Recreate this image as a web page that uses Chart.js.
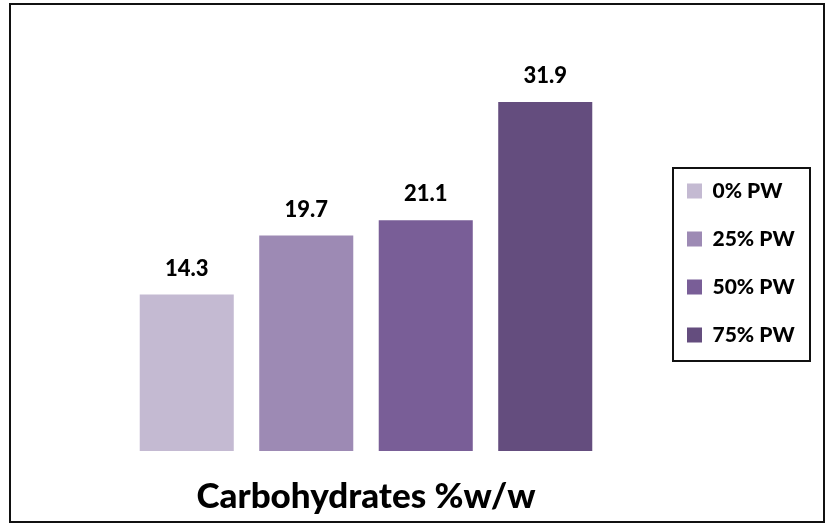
<!DOCTYPE html>
<html lang="en">
<head>
  <meta charset="UTF-8">
  <title>Carbohydrates %w/w</title>
  <script src="https://cdn.jsdelivr.net/npm/chart.js"></script>
  <style>
    body { margin: 0; background: #fff; }
    #wrap { width: 826px; height: 526px; }
  </style>
</head>
<body>
  <div id="wrap"><canvas id="chart" width="826" height="526"></canvas></div>

  <script>
    // data
    const seriesNames = ['0% PW', '25% PW', '50% PW', '75% PW'];
    const carbValues = [14.3, 19.7, 21.1, 31.9];
    const categories = [''];
    const axisTitle = 'Carbohydrates %w/w';

    const barColors = ['#C4BAD2', '#9D8AB4', '#795E97', '#644D7E'];
    const FONT = 'Lato, "Open Sans", sans-serif';
    const WEIGHT = '900';

    // work out legend width so that its items start where the picture has them
    const mctx = document.createElement('canvas').getContext('2d');
    mctx.font = WEIGHT + ' 21px ' + FONT;
    let maxText = 0;
    seriesNames.forEach(n => { maxText = Math.max(maxText, mctx.measureText(n).width); });
    const legendPad = 27;
    const legendWidth = legendPad + 15 + 10.5 + maxText + 10;
    const padRight = 826 - 660 - legendWidth;

    const frame = {
      id: 'frame',
      beforeDraw(chart) {
        const ctx = chart.ctx;
        ctx.save();
        ctx.fillStyle = '#fff';
        ctx.fillRect(0, 0, chart.width, chart.height);
        ctx.restore();
      },
      afterDraw(chart) {
        const ctx = chart.ctx;
        ctx.save();
        ctx.strokeStyle = '#111';
        ctx.lineWidth = 2;
        ctx.strokeRect(10, 4, 814, 518);

        // border round the legend
        const hb = chart.legend.legendHitBoxes;
        if (hb && hb.length) {
          let right = 0;
          hb.forEach(h => { right = Math.max(right, h.left + h.width); });
          const l = Math.round(hb[0].left - 14);
          const t = Math.round(hb[0].top - 12.5);
          const b = Math.round(hb[hb.length - 1].top + hb[hb.length - 1].height + 15.5);
          const r = Math.round(Math.max(right + 13, 810));
          ctx.lineWidth = 2;
          ctx.strokeRect(l, t, r - l, b - t);
        }
        ctx.restore();
      }
    };

    const valueLabels = {
      id: 'valueLabels',
      afterDatasetsDraw(chart) {
        const ctx = chart.ctx;
        ctx.save();
        ctx.font = WEIGHT + ' 22px ' + FONT;
        ctx.fillStyle = '#000';
        ctx.textAlign = 'center';
        ctx.textBaseline = 'alphabetic';
        chart.data.datasets.forEach((ds, i) => {
          const meta = chart.getDatasetMeta(i);
          meta.data.forEach((bar, j) => {
            ctx.fillText(ds.data[j].toFixed(1), bar.x, bar.y - 19);
          });
        });
        ctx.restore();
      }
    };

    new Chart(document.getElementById('chart'), {
      type: 'bar',
      data: {
        labels: categories,
        datasets: seriesNames.map((name, i) => ({
          label: name,
          data: [carbValues[i]],
          backgroundColor: barColors[i],
          barPercentage: 0.787,
          categoryPercentage: 1
        }))
      },
      options: {
        responsive: false,
        animation: false,
        layout: { padding: { top: 8, bottom: 8, left: 127, right: padRight } },
        plugins: {
          tooltip: { enabled: false },
          legend: {
            position: 'right',
            labels: {
              boxWidth: 15,
              boxHeight: 15,
              padding: legendPad,
              color: '#000',
              font: { family: FONT, size: 21, weight: WEIGHT }
            }
          }
        },
        scales: {
          x: {
            grid: { display: false, drawTicks: false },
            border: { display: false },
            ticks: { display: false },
            title: {
              display: true,
              text: axisTitle,
              color: '#000',
              font: { family: FONT, size: 35, weight: WEIGHT },
              padding: { top: 25, bottom: 0 }
            }
          },
          y: {
            position: 'right',
            min: 0,
            max: 40.5,
            grid: { display: false, drawTicks: false },
            border: { display: false },
            ticks: { display: false },
            afterFit(scale) { scale.width = 55; }
          }
        }
      },
      plugins: [frame, valueLabels]
    });
  </script>
</body>
</html>
